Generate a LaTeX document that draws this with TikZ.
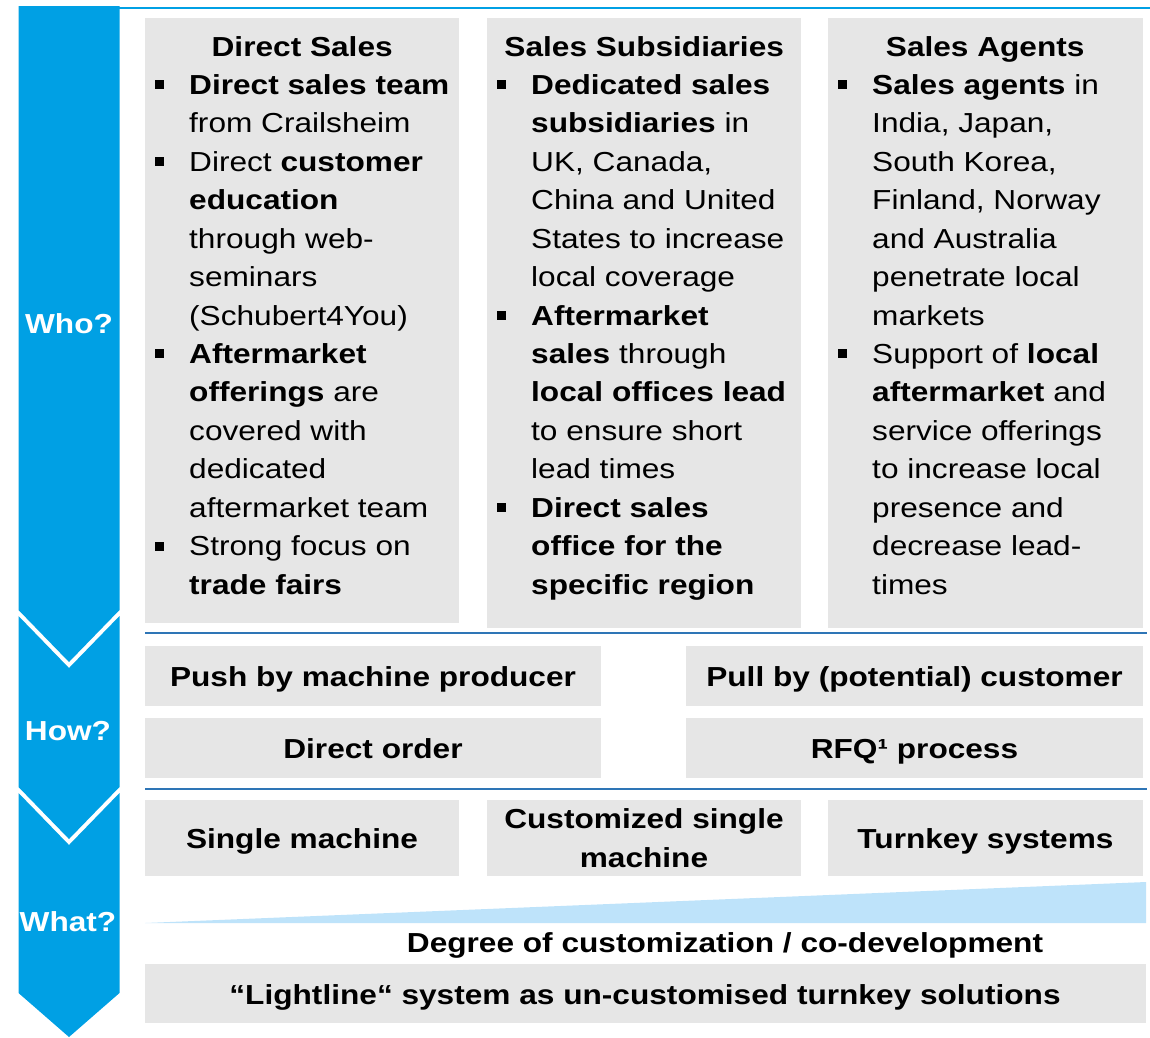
\documentclass[tikz,border=0pt]{standalone}
\usepackage{fontspec}
\setmainfont{Liberation Sans}[FakeStretch=1.15]
\definecolor{chev}{RGB}{0,160,228}
\definecolor{sepblue}{RGB}{46,117,182}
\definecolor{boxg}{RGB}{230,230,230}
\definecolor{wedgeblue}{RGB}{190,227,250}
\newcommand\bu{\makebox[44pt][l]{\hspace*{10pt}\rule[5pt]{9pt}{9pt}}}
\newcommand\ct{\hspace*{44pt}}
\newcommand\hd[1]{\makebox[314pt][c]{\bfseries #1}}
\begin{document}
\begin{tikzpicture}[x=1pt,y=-1pt,
  every node/.style={inner sep=0pt, font=\fontsize{27.5}{38.43}\selectfont},
  lbl/.style={font=\fontsize{27.5}{38.43}\selectfont\bfseries, anchor=base, align=center},
  side/.style={font=\fontsize{27.5}{38.43}\selectfont\bfseries, anchor=base, text=white},
  col/.style={anchor=base west},
  box/.style={fill=boxg},
  sepline/.style={draw=sepblue, line width=1.6pt}]
\useasboundingbox (0,0) rectangle (1150,1037);
% chevron
\fill[chev] (18.5,6) -- (119.5,6) -- (119.5,610) -- (69,662) -- (18.5,610) -- cycle;
\fill[chev] (18.5,616) -- (69,668) -- (119.5,616) -- (119.5,787) -- (69,839) -- (18.5,787) -- cycle;
\fill[chev] (18.5,793) -- (69,845) -- (119.5,793) -- (119.5,993) -- (69,1037) -- (18.5,993) -- cycle;
\draw[chev, line width=2.4pt] (119,8) -- (1150,8);
\node[side] (who) at (69,333) {Who?};
\node[side] (how) at (68,740) {How?};
\node[side] (what) at (68,931) {What?};
% top boxes
\fill[box] (145,18) rectangle (459,623);
\fill[box] (487,18) rectangle (801,628);
\fill[box] (828,18) rectangle (1143,628);
\node[col] (c1) at (145,56) {\begin{minipage}[t]{500pt}\raggedright
\hd{Direct Sales}\\
\bu\textbf{Direct sales team}\\
\ct from Crailsheim\\
\bu Direct \textbf{customer}\\
\ct\textbf{education}\\
\ct through web-\\
\ct seminars\\
\ct (Schubert4You)\\
\bu\textbf{Aftermarket}\\
\ct\textbf{offerings} are\\
\ct covered with\\
\ct dedicated\\
\ct aftermarket team\\
\bu Strong focus on\\
\ct\textbf{trade fairs}
\end{minipage}};
\node[col] (c2) at (487,56) {\begin{minipage}[t]{500pt}\raggedright
\hd{Sales Subsidiaries}\\
\bu\textbf{Dedicated sales}\\
\ct\textbf{subsidiaries} in\\
\ct UK, Canada,\\
\ct China and United\\
\ct States to increase\\
\ct local coverage\\
\bu\textbf{Aftermarket}\\
\ct\textbf{sales} through\\
\ct\textbf{local offices lead}\\
\ct to ensure short\\
\ct lead times\\
\bu\textbf{Direct sales}\\
\ct\textbf{office for the}\\
\ct\textbf{specific region}
\end{minipage}};
\node[col] (c3) at (828,56) {\begin{minipage}[t]{500pt}\raggedright
\hd{Sales Agents}\\
\bu\textbf{Sales agents} in\\
\ct India, Japan,\\
\ct South Korea,\\
\ct Finland, Norway\\
\ct and Australia\\
\ct penetrate local\\
\ct markets\\
\bu Support of \textbf{local}\\
\ct\textbf{aftermarket} and\\
\ct service offerings\\
\ct to increase local\\
\ct presence and\\
\ct decrease lead-\\
\ct times
\end{minipage}};
% separators
\draw[sepline] (145,633) -- (1147,633);
\draw[sepline] (145,789) -- (1147,789);
% how row
\fill[box] (145,646) rectangle (601,706);
\fill[box] (686,646) rectangle (1143,706);
\fill[box] (145,718) rectangle (601,778);
\fill[box] (686,718) rectangle (1143,778);
\node[lbl] (push) at (373,686) {Push by machine producer};
\node[lbl] (pull) at (914.5,686) {Pull by (potential) customer};
\node[lbl] (dord) at (373,758) {Direct order};
\node[lbl] (rfq) at (914.5,758) {RFQ¹ process};
% what row
\fill[box] (145,800) rectangle (459,876);
\fill[box] (487,800) rectangle (801,876);
\fill[box] (828,800) rectangle (1143,876);
\node[lbl] (single) at (302,848) {Single machine};
\node[lbl] (custom) at (644,867) {Customized single\\machine};
\node[lbl] (turnkey) at (985.5,848) {Turnkey systems};
% wedge
\fill[wedgeblue] (145,923) -- (1146,882) -- (1146,923) -- cycle;
\node[lbl] (degree) at (725,952) {Degree of customization / co-development};
% lightline
\fill[box] (145,964) rectangle (1146,1023);
\node[lbl] (light) at (645,1004) {“Lightline“ system as un-customised turnkey solutions};
\end{tikzpicture}
\end{document}
